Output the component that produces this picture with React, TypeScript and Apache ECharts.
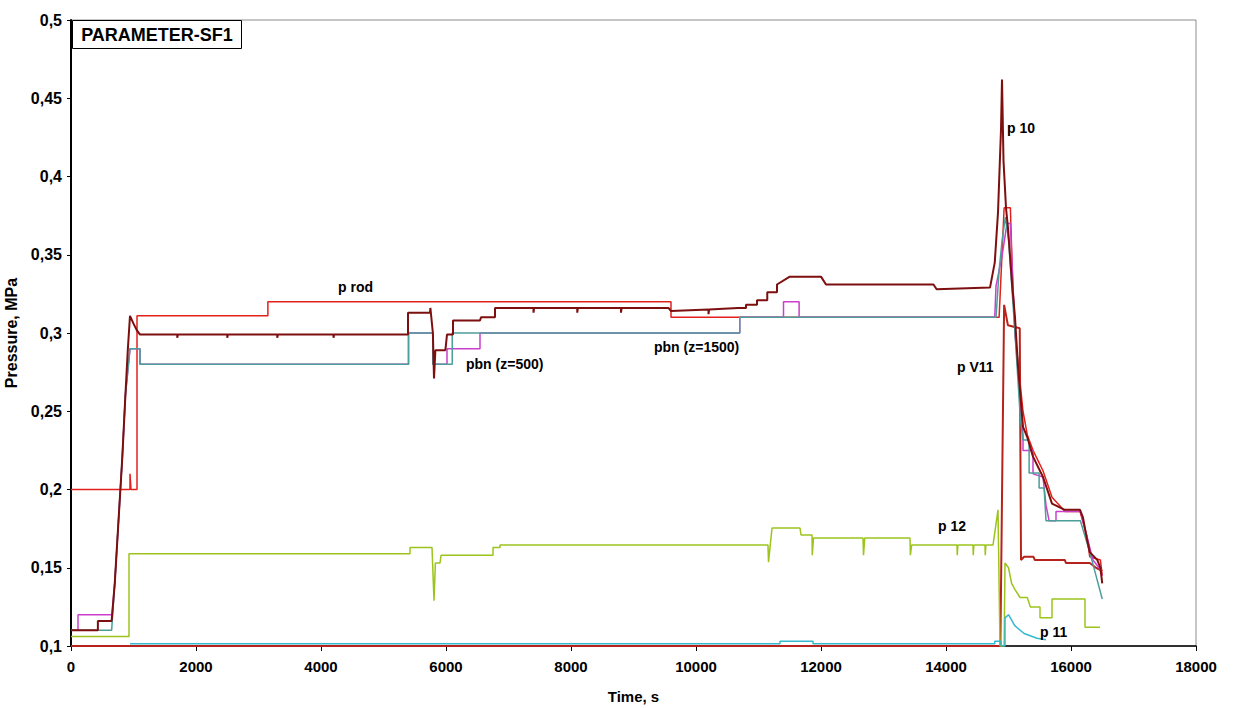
import React, { useEffect, useRef } from "react";
import * as echarts from "echarts";

type P = [number, number];

const xTicks = [0, 2000, 4000, 6000, 8000, 10000, 12000, 14000, 16000, 18000];
const yTicks = [0.1, 0.15, 0.2, 0.25, 0.3, 0.35, 0.4, 0.45, 0.5];

const pRod: P[] = [
  [0, 0.2], [944, 0.2], [944, 0.21], [960, 0.2], [1056, 0.2], [1056, 0.311], [3150, 0.311], [3150, 0.32],
  [9600, 0.32], [9600, 0.31], [14850, 0.31], [14930, 0.38], [15030, 0.38], [15060, 0.34], [15104, 0.3],
  [15232, 0.25], [15300, 0.235], [15392, 0.225], [15552, 0.212], [15696, 0.195], [15904, 0.186],
  [16144, 0.186], [16256, 0.17], [16300, 0.157], [16470, 0.155], [16500, 0.145],
];

const pbn1500: P[] = [
  [0, 0.11], [650, 0.11], [700, 0.14], [760, 0.18], [820, 0.22], [870, 0.26], [944, 0.29], [1104, 0.29],
  [1104, 0.28], [5400, 0.28], [5400, 0.3], [5790, 0.3], [5790, 0.28], [6100, 0.28], [6100, 0.3],
  [10700, 0.3], [10700, 0.31], [14800, 0.31], [14850, 0.34], [14900, 0.36], [14950, 0.374], [15000, 0.36],
  [15104, 0.3], [15190, 0.245], [15232, 0.2316], [15330, 0.2316], [15330, 0.2105], [15490, 0.2105],
  [15490, 0.201], [15570, 0.201], [15600, 0.18], [16150, 0.18], [16300, 0.16], [16400, 0.145], [16500, 0.13],
];

const pbn500: P[] = [
  [0, 0.11], [112, 0.11], [112, 0.12], [656, 0.12], [700, 0.14], [760, 0.18], [820, 0.22], [870, 0.26],
  [944, 0.29], [1104, 0.29], [1104, 0.28], [5400, 0.28], [5400, 0.3], [5790, 0.3], [5790, 0.28],
  [6016, 0.28], [6016, 0.29], [6544, 0.29], [6544, 0.3], [10700, 0.3], [10700, 0.31], [11400, 0.31],
  [11400, 0.32], [11650, 0.32], [11650, 0.31], [14780, 0.31], [14800, 0.33], [14900, 0.35], [14976, 0.37],
  [15030, 0.37], [15104, 0.3], [15232, 0.235], [15232, 0.225], [15392, 0.225], [15392, 0.21], [15552, 0.208],
  [15600, 0.19], [15650, 0.18], [15760, 0.18], [15760, 0.186], [16150, 0.186], [16256, 0.17], [16350, 0.155],
  [16450, 0.15], [16500, 0.145],
];

const pV11: P[] = [
  [0, 0.1], [14870, 0.1], [14930, 0.318], [14990, 0.305], [15180, 0.303], [15200, 0.155], [15250, 0.157],
  [15400, 0.157], [15420, 0.155], [15900, 0.155], [15920, 0.153], [16300, 0.153], [16400, 0.15], [16500, 0.148],
];

const p12: P[] = [
  [0, 0.106], [928, 0.106], [928, 0.159], [5424, 0.159], [5424, 0.163], [5776, 0.163], [5808, 0.129],
  [5830, 0.153], [5904, 0.153], [5920, 0.158], [6752, 0.158], [6752, 0.163], [6864, 0.163], [6864, 0.1645],
  [11152, 0.1645], [11160, 0.1536], [11216, 0.1754], [11664, 0.1754], [11680, 0.171], [11856, 0.171],
  [11860, 0.158], [11880, 0.169], [12672, 0.169], [12680, 0.158], [12700, 0.169], [13424, 0.169],
  [13430, 0.158], [13450, 0.1645], [14176, 0.1645], [14180, 0.158], [14190, 0.1645], [14432, 0.1645],
  [14436, 0.158], [14446, 0.1645], [14624, 0.1645], [14628, 0.158], [14638, 0.1645], [14752, 0.1645],
  [14832, 0.187], [14864, 0.1], [14930, 0.1], [14944, 0.153], [15000, 0.15], [15050, 0.14], [15104, 0.136],
  [15184, 0.131], [15300, 0.131], [15350, 0.125], [15504, 0.125], [15504, 0.118], [15696, 0.118],
  [15696, 0.13], [16224, 0.13], [16224, 0.112], [16464, 0.112],
];

const p11: P[] = [
  [944, 0.1015], [11344, 0.1015], [11344, 0.103], [11872, 0.103], [11872, 0.1015], [14780, 0.1015],
  [14780, 0.103], [14880, 0.103], [14880, 0.1], [14944, 0.1], [14944, 0.118], [15000, 0.12], [15100, 0.113],
  [15250, 0.108], [15456, 0.105], [15600, 0.104],
];

const p10: P[] = [
  [0, 0.11], [430, 0.11], [430, 0.116], [650, 0.116], [700, 0.14], [760, 0.18], [820, 0.22], [870, 0.26],
  [910, 0.29], [944, 0.311], [1000, 0.306], [1050, 0.302], [1104, 0.299],
  [1700, 0.299], [1700, 0.297], [1710, 0.299], [2500, 0.299], [2500, 0.297], [2510, 0.299],
  [3300, 0.299], [3300, 0.297], [3310, 0.299], [4200, 0.299], [4200, 0.297], [4210, 0.299],
  [5392, 0.299], [5392, 0.313],
  [5744, 0.313], [5750, 0.316], [5790, 0.3], [5808, 0.271], [5830, 0.289], [5990, 0.289], [6016, 0.299],
  [6112, 0.299], [6112, 0.308], [6544, 0.308], [6560, 0.31], [6784, 0.31], [6784, 0.316],
  [7400, 0.316], [7400, 0.313], [7410, 0.316], [8100, 0.316], [8100, 0.313], [8110, 0.316],
  [8800, 0.316], [8800, 0.313], [8810, 0.316], [9560, 0.316],
  [9600, 0.314], [10200, 0.315], [10200, 0.312], [10210, 0.315], [10672, 0.316], [10800, 0.316],
  [10800, 0.318], [10976, 0.318], [10976, 0.321],
  [11140, 0.321], [11140, 0.326], [11296, 0.326], [11296, 0.331], [11500, 0.336], [12000, 0.336],
  [12080, 0.331], [13800, 0.331], [13850, 0.328], [14704, 0.329],
  [14780, 0.345], [14832, 0.377], [14880, 0.43], [14896, 0.462], [14920, 0.41], [14960, 0.38],
  [14992, 0.367], [15060, 0.33], [15104, 0.31], [15150, 0.28], [15232, 0.24], [15300, 0.2335],
  [15392, 0.221], [15552, 0.208], [15696, 0.191], [15900, 0.187], [16144, 0.187], [16192, 0.182],
  [16256, 0.168], [16300, 0.16], [16420, 0.155], [16470, 0.15], [16500, 0.14],
];

const FONT = "'Liberation Sans', Arial, sans-serif";

const labels: { text: string; x: number; y: number }[] = [
  { text: "p rod", x: 338, y: 287 },
  { text: "pbn (z=500)", x: 466, y: 364 },
  { text: "pbn (z=1500)", x: 654, y: 347 },
  { text: "p 10", x: 1007, y: 128 },
  { text: "p V11", x: 957, y: 367 },
  { text: "p 12", x: 938, y: 526 },
  { text: "p 11", x: 1040, y: 632 },
];

function line(name: string, data: P[], color: string, width: number, z: number) {
  return {
    name,
    type: "line",
    data,
    symbol: "none",
    z,
    lineStyle: { color, width },
    itemStyle: { color },
  };
}

export default function App() {
  const ref = useRef<HTMLDivElement>(null);
  useEffect(() => {
    if (!ref.current) return;
    const chart = echarts.init(ref.current, undefined, { renderer: "svg" });
    chart.setOption({
      animation: false,
      backgroundColor: "#ffffff",
      textStyle: { fontFamily: FONT },
      grid: {
        left: 71,
        right: 40,
        top: 20,
        bottom: 62,
        show: true,
        borderColor: "#8c8c8c",
        borderWidth: 1,
        containLabel: false,
        outerBoundsMode: "none",
      },
      xAxis: {
        type: "value",
        min: xTicks[0],
        max: xTicks[xTicks.length - 1],
        interval: 2000,
        name: "Time, s",
        nameLocation: "middle",
        nameGap: 43,
        nameTextStyle: { fontFamily: FONT, fontWeight: "bold", fontSize: 15, color: "#000" },
        axisLine: { lineStyle: { color: "#000", width: 1.5 } },
        axisTick: { length: 5, lineStyle: { color: "#000" } },
        splitLine: { show: false },
        axisLabel: {
          fontFamily: FONT,
          fontWeight: "bold",
          fontSize: 15,
          color: "#000",
          margin: 13,
          formatter: (v: number) => String(v),
        },
      },
      yAxis: {
        type: "value",
        min: yTicks[0],
        max: yTicks[yTicks.length - 1],
        interval: 0.05,
        name: "Pressure, MPa",
        nameLocation: "middle",
        nameGap: 34,
        nameTextStyle: { fontFamily: FONT, fontWeight: "bold", fontSize: 16, color: "#000" },
        axisLine: { show: true, lineStyle: { color: "#000", width: 2 } },
        axisTick: { show: true, length: 4, lineStyle: { color: "#000" } },
        splitLine: { show: false },
        axisLabel: {
          fontFamily: FONT,
          fontWeight: "bold",
          fontSize: 16,
          color: "#000",
          margin: 9,
          formatter: (v: number) => String(+v.toFixed(2)).replace(".", ","),
        },
      },
      series: [
        line("p V11", pV11, "#b8221c", 2, 2),
        line("p rod", pRod, "#e3211c", 1.5, 3),
        line("pbn (z=500)", pbn500, "#cc3fcc", 1.5, 4),
        line("pbn (z=1500)", pbn1500, "#4b9e9a", 1.5, 5),
        line("p 12", p12, "#9cc41c", 1.5, 6),
        line("p 11", p11, "#35b8d0", 1.5, 7),
        line("p 10", p10, "#7d0f0f", 2, 8),
      ],
      graphic: [
        {
          type: "group",
          left: 72,
          top: 20,
          children: [
            { type: "rect", shape: { x: 0, y: 0, width: 169, height: 28 }, style: { fill: "#fff", stroke: "#000", lineWidth: 1 } },
            {
              type: "text",
              x: 84.5,
              y: 14,
              style: { text: "PARAMETER-SF1", font: `bold 18px ${FONT}`, fill: "#000", align: "center", verticalAlign: "middle" },
            },
          ],
        },
        ...labels.map((l) => ({
          type: "text",
          x: l.x,
          y: l.y,
          z: 100,
          style: { text: l.text, font: `bold 14px ${FONT}`, fill: "#000", verticalAlign: "middle" },
        })),
      ],
    });
    return () => chart.dispose();
  }, []);
  return <div ref={ref} style={{ position: "fixed", left: 0, top: 0, width: 1236, height: 708 }} />;
}
